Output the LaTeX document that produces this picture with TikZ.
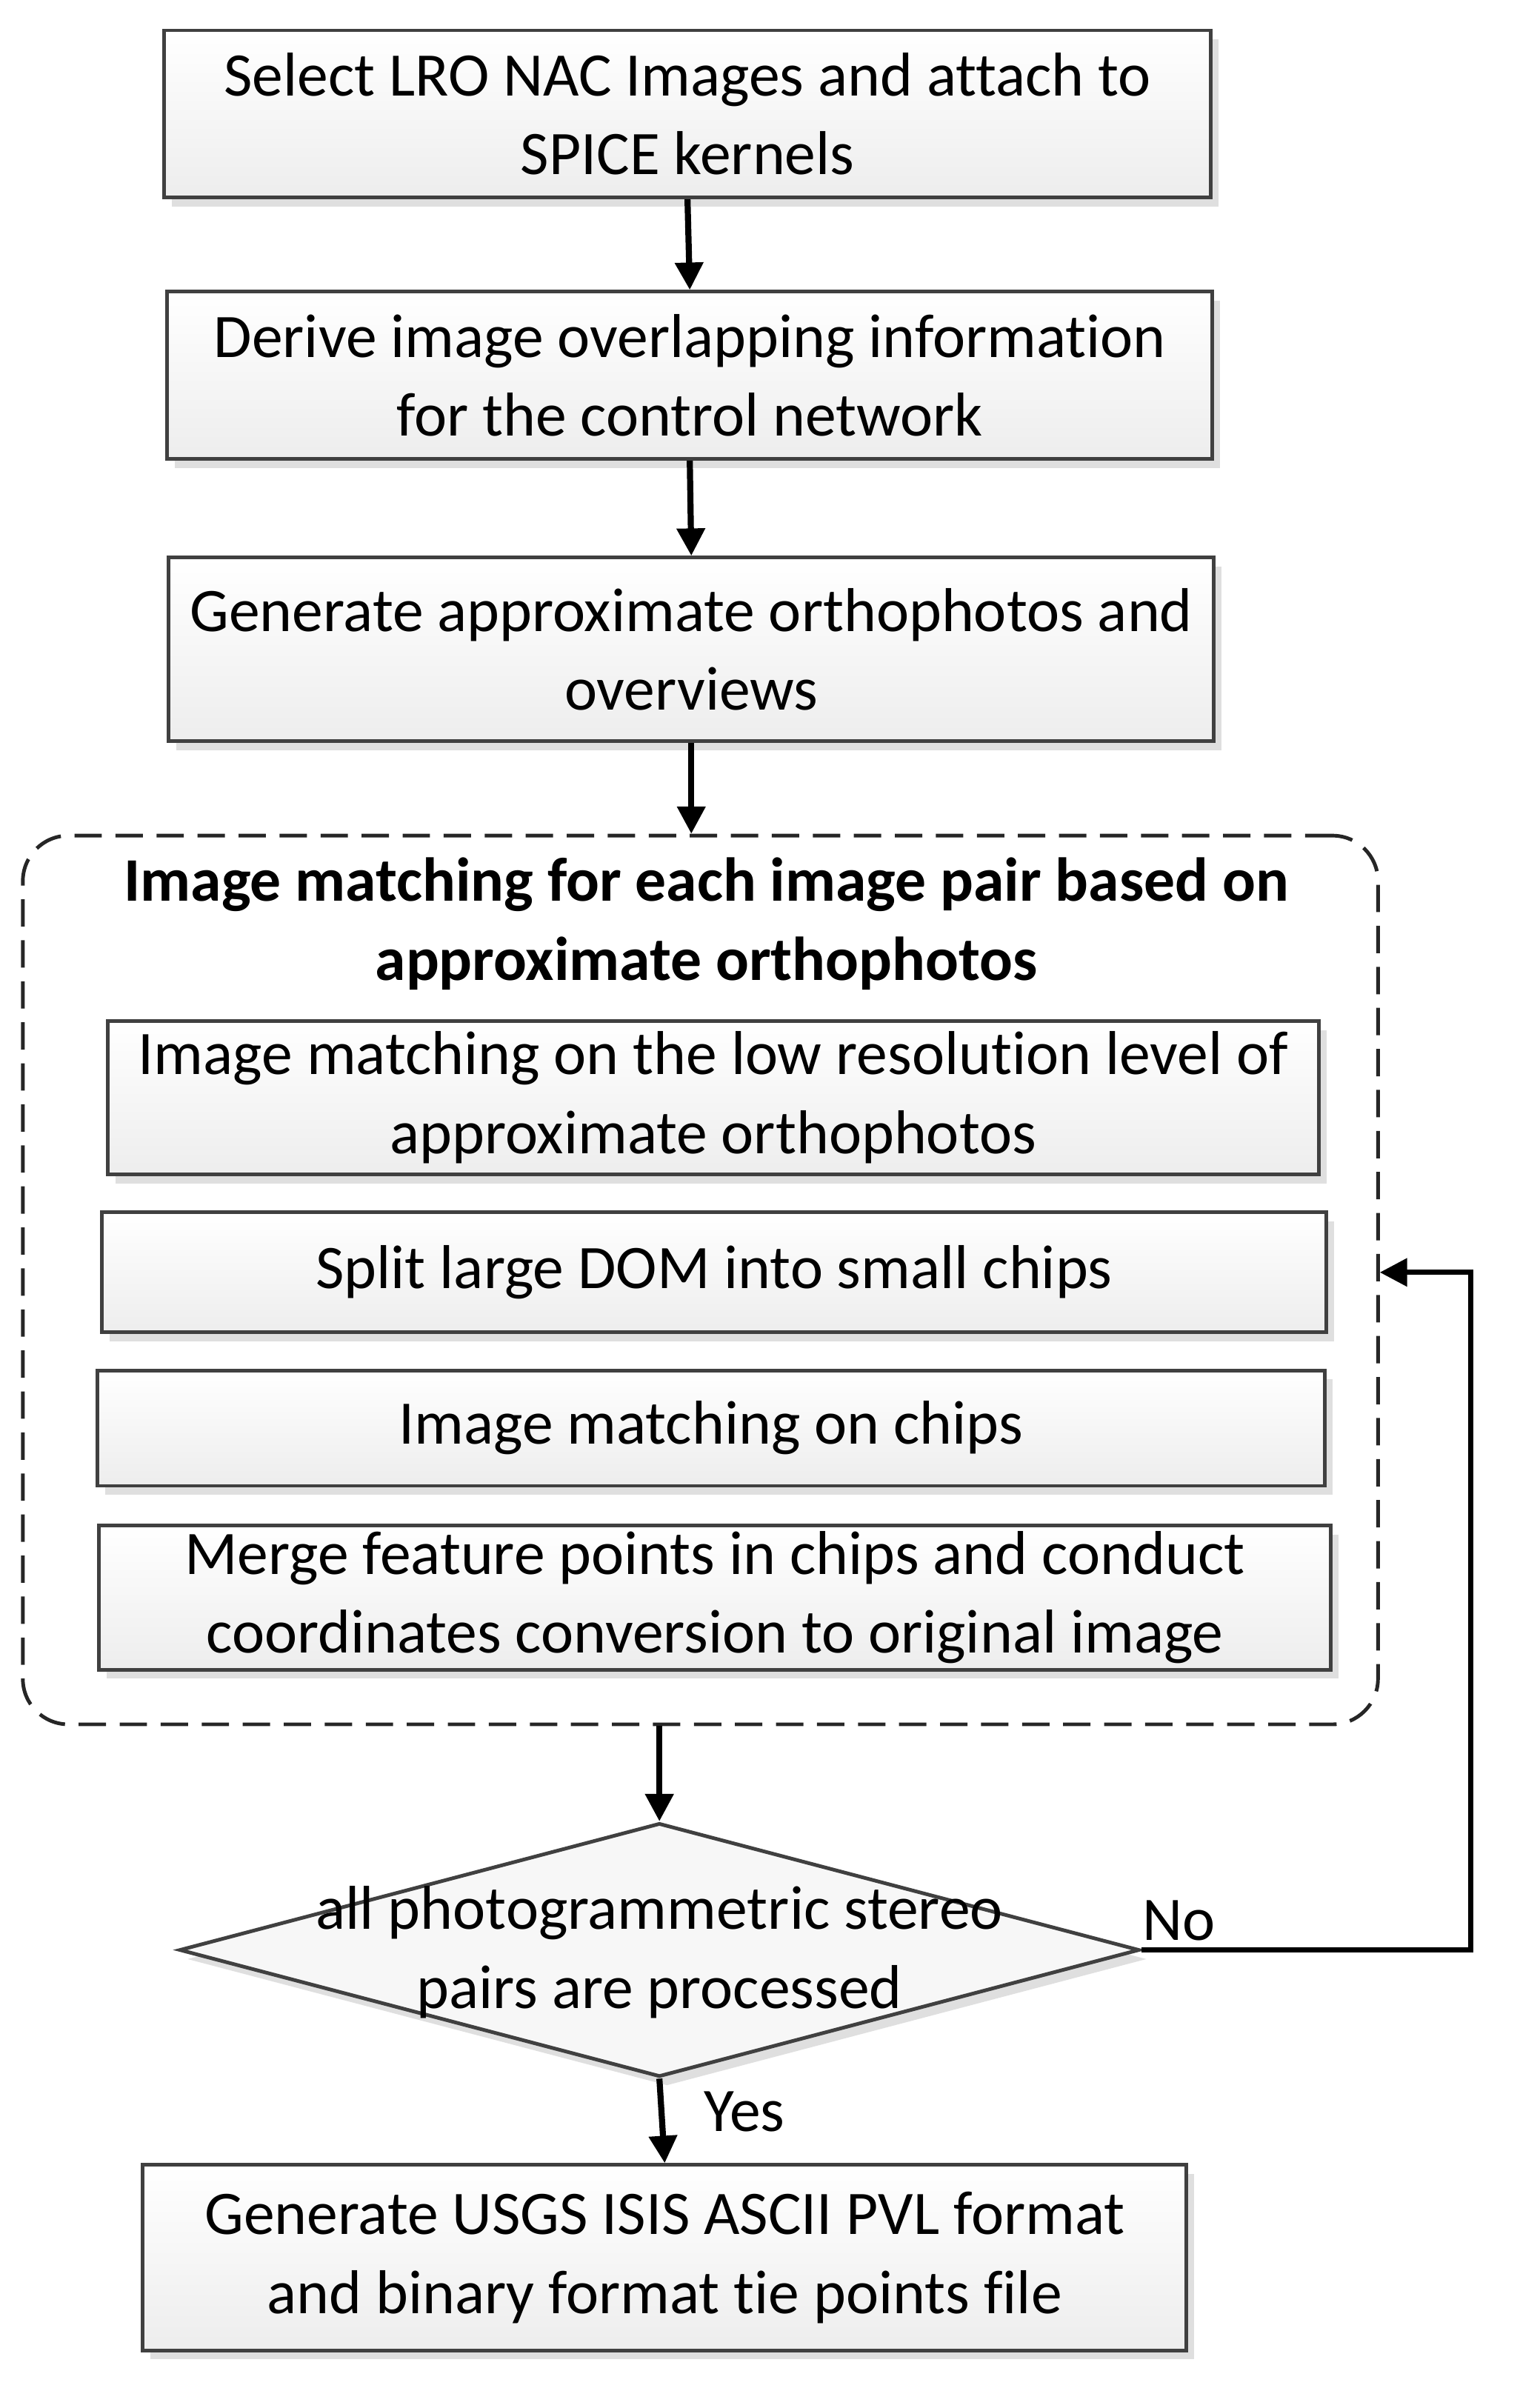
\documentclass[tikz,border=0pt]{standalone}
\usepackage{fontspec}
\setmainfont{Carlito}[Ligatures={NoCommon}]
\usetikzlibrary{shapes.geometric,arrows.meta,shadows}
\begin{document}
\begin{tikzpicture}[x=0.05cm,y=-0.05cm,
  box/.style={draw=black!75,line width=0.12cm,top color=white,bottom color=black!7,
    drop shadow={shadow xshift=0.25cm,shadow yshift=-0.3cm,fill=black!25,opacity=0.5},
    align=center,font=\fontsize{58}{74}\selectfont,inner sep=0pt},
  arr/.style={line width=0.2cm,-{Triangle[length=0.9cm,width=0.9cm]}},
  lbl/.style={font=\fontsize{58}{74}\selectfont}]
\useasboundingbox (0,0) rectangle (1000,1585);
\node[box,minimum width=34.45cm,minimum height=5.5cm] (b1) at (452.5,75) {Select LRO NAC Images and attach to\\SPICE kernels};
\node[box,minimum width=34.4cm,minimum height=5.5cm] (b2) at (454,247) {Derive image overlapping information\\for the control network};
\node[box,minimum width=34.4cm,minimum height=6.05cm] (b3) at (455,427.5) {Generate approximate orthophotos and\\overviews};
\node[draw=black!85,dashed,dash pattern=on 0.9cm off 0.45cm,line width=0.12cm,rounded corners=1.5cm,minimum width=44.6cm,minimum height=29.25cm] (c) at (461,842.5) {};
\node[align=center,font=\fontsize{58}{74}\selectfont\bfseries] (t) at (465,608) {Image matching for each image pair based on\\approximate orthophotos};
\node[box,minimum width=39.85cm,minimum height=5.05cm] (i1) at (469.5,722.5) {Image matching on the low resolution level of\\approximate orthophotos};
\node[box,minimum width=40.3cm,minimum height=3.95cm] (i2) at (470,837.5) {Split large DOM into small chips};
\node[box,minimum width=40.4cm,minimum height=3.8cm] (i3) at (468,940) {Image matching on chips};
\node[box,minimum width=40.55cm,minimum height=4.75cm] (i4) at (470.5,1051.5) {Merge feature points in chips and conduct\\coordinates conversion to original image};
\node[draw=black!75,line width=0.12cm,fill=black!3,diamond,aspect=3.78,minimum width=31.6cm,minimum height=8.35cm,inner sep=0pt,
  drop shadow={shadow xshift=0.25cm,shadow yshift=-0.3cm,fill=black!25,opacity=0.5}] (d) at (434,1283.5) {};
\node[align=center,font=\fontsize{58}{74}\selectfont] (dt) at (434,1285) {all photogrammetric stereo\\pairs are processed};
\node[box,minimum width=34.35cm,minimum height=6.1cm] (b4) at (437.5,1486) {Generate USGS ISIS ASCII PVL format\\and binary format tie points file};
\draw[arr] (b1.south) -- (b2.north);
\draw[arr] (b2.south) -- (b3.north);
\draw[arr] (b3.south) -- (b3.south |- c.north);
\draw[arr] (d.north |- c.south) -- (d.north);
\draw[arr] (d.south) -- (b4.north);
\coordinate (lp) at (968,1283.5);
\draw[arr,line width=0.17cm] (d.east) -- (lp) |- (c.east |- i2.center);
\node[lbl] (yes) at (490,1390) {Yes};
\node[lbl] (no) at (776,1264) {No};
\end{tikzpicture}
\end{document}
